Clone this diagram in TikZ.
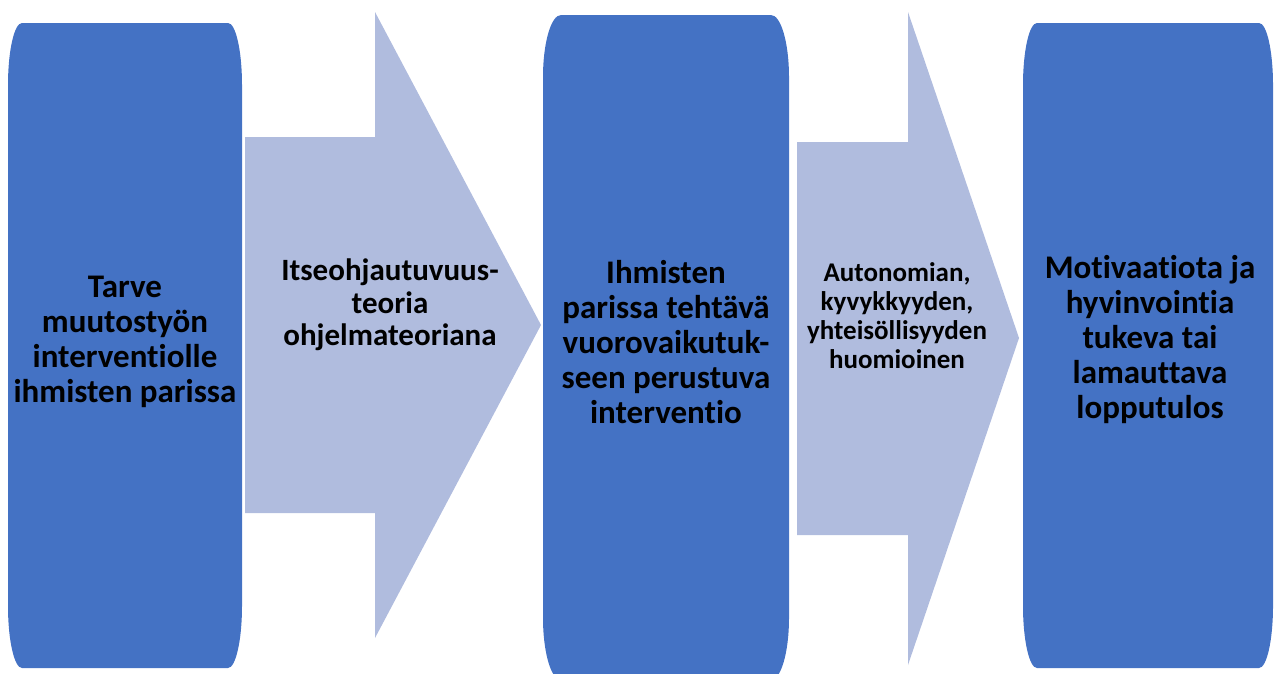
\documentclass[tikz,border=0pt]{standalone}
\usepackage{fontspec}
\setmainfont{Carlito}[Ligatures=NoCommon]
\usetikzlibrary{
    positioning % For relative positioning
}
\definecolor{stepblue}{HTML}{4472C4}
\definecolor{arrowblue}{HTML}{B0BCDE}

\begin{document}
\begin{tikzpicture}[
    x=1pt, y=-1pt,
    % Define styles
    stepbox/.style={fill=stepblue, draw=none},
    blockarrow/.style={fill=arrowblue, draw=none},
    steptext/.style={align=center, inner sep=0pt, font=\fontsize{33}{35}\selectfont\bfseries}, % Text of the blue boxes
    arrowtext/.style={align=center, inner sep=0pt, font=\fontsize{31}{32.5}\selectfont\bfseries} % Text of the arrows
]
\useasboundingbox (0,0) rectangle (1277,673);
\clip (0,0) rectangle (1277,673);

% ----- BLOCK ARROWS (behind the boxes) -----
\path [blockarrow] (245,137) -- (375,137) -- (375,12) -- (541,325) -- (375,638) -- (375,513) -- (245,513) -- cycle;
\path [blockarrow] (797,142) -- (908,142) -- (908,12) -- (1019,338) -- (908,665) -- (908,535) -- (797,535) -- cycle;

% ----- BLUE STEP BOXES -----
\path [stepbox] (8,85) arc[start angle=180, end angle=90, x radius=14pt, y radius=62pt] -- (228,23)
    arc[start angle=90, end angle=0, x radius=14pt, y radius=62pt] -- (242,606)
    arc[start angle=0, end angle=-90, x radius=14pt, y radius=62pt] -- (22,668)
    arc[start angle=-90, end angle=-180, x radius=14pt, y radius=62pt] -- cycle;
\path [stepbox] (543,77) arc[start angle=180, end angle=90, x radius=18pt, y radius=62pt] -- (771,15)
    arc[start angle=90, end angle=0, x radius=18pt, y radius=62pt] -- (789,618)
    arc[start angle=0, end angle=-90, x radius=18pt, y radius=62pt] -- (561,680)
    arc[start angle=-90, end angle=-180, x radius=18pt, y radius=62pt] -- cycle;
\path [stepbox] (1023,85) arc[start angle=180, end angle=90, x radius=14pt, y radius=62pt] -- (1259,23)
    arc[start angle=90, end angle=0, x radius=14pt, y radius=62pt] -- (1273,606)
    arc[start angle=0, end angle=-90, x radius=14pt, y radius=62pt] -- (1037,668)
    arc[start angle=-90, end angle=-180, x radius=14pt, y radius=62pt] -- cycle;

% ----- TEXTS -----
\node (need)     [steptext] at (125,342) {Tarve\\muutostyön\\interventiolle\\ihmisten parissa};
\node (theory)   [arrowtext] at (390,305) {Itseohjautuvuus-\\teoria\\ohjelmateoriana};
\node (interv)   [steptext] at (666,342) {Ihmisten\\parissa tehtävä\\vuorovaikutuk-\\seen perustuva\\interventio};
\node (needs)    [arrowtext, font=\fontsize{27}{29}\selectfont\bfseries] at (897,316) {Autonomian,\\kyvykkyyden,\\yhteisöllisyyden\\huomioinen};
\node (outcome)  [steptext] at (1150,340) {Motivaatiota ja\\hyvinvointia\\tukeva tai\\lamauttava\\lopputulos};

\end{tikzpicture}
\end{document}
